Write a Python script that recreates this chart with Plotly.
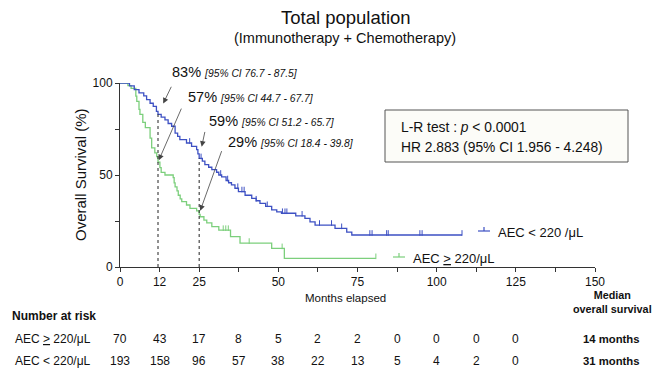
import plotly.graph_objects as go

# ---------------- data ----------------
blue_name = "AEC &lt; 220 /μL"
green_name = "AEC <u>&gt;</u> 220/μL"

blue_t = [0, 3.0, 4.5, 6.0, 7.5, 8.4, 9.5, 10.5, 11.5, 12.0, 13.0, 14.2, 15.2, 16.3, 17.4, 18.2,
          18.9, 21.0, 22.6, 24.2, 24.6, 25.0, 26.0, 26.8, 28.0, 29.0, 30.5, 31.2, 32.1, 33.5,
          34.3, 35.2, 36.3, 37.4, 39.5, 41.6, 43.0, 44.2, 46.0, 47.9, 49.5, 51.0, 55.5, 58.4,
          60.0, 61.6, 67.9, 71.6, 73.2]
blue_s = [100, 98.4, 96.4, 94.6, 93.0, 91.0, 89.0, 87.3, 84.6, 83.0, 81.5, 80.0, 78.0, 76.5, 72.8, 71.0,
          69.2, 67.4, 65.6, 63.8, 61.5, 59.0, 57.5, 55.6, 54.2, 52.9, 51.5, 50.0, 49.0, 47.0,
          45.8, 44.6, 42.8, 41.0, 39.0, 37.3, 36.0, 34.6, 33.0, 31.0, 30.0, 29.2, 27.8, 26.4,
          24.5, 22.8, 21.0, 19.0, 17.4]
blue_end = 108
blue_censor = [22.0, 25.6, 31.8, 34.0, 37.2, 38.5, 39.2, 43.0, 46.5, 51.3, 52.1, 52.7, 57.5,
               63.0, 66.8, 70.0, 78.9, 79.6, 84.2, 84.7, 94.7, 95.4, 108]

green_t = [0, 2.5, 3.5, 5.0, 5.3, 6.0, 6.3, 7.2, 8.0, 9.5, 10.0, 11.0, 11.6, 12.0, 12.6, 13.0,
           14.2, 16.8, 17.1, 17.4, 18.0, 18.4, 19.0, 19.5, 21.0, 22.1, 24.2, 25.0, 25.3, 26.5,
           27.4, 29.0, 31.2, 34.9, 37.9, 47.9, 51.9]
green_s = [100, 98.6, 97.1, 92.9, 90.0, 85.7, 82.9, 78.6, 75.7, 70.0, 64.7, 62.0, 60.0, 57.0, 54.0, 51.4,
           50.0, 48.6, 45.7, 43.6, 41.4, 39.0, 37.0, 35.5, 33.7, 31.9, 30.5, 28.6, 27.3, 25.5,
           24.0, 21.9, 20.0, 16.5, 13.0, 10.1, 4.7]
green_end = 80.8
green_censor = [32.6, 33.4, 34.2, 40.8, 51.2, 80.8]

marks = [  # (time, survival, big label, CI text)
    (12, 83, "83%", "[95% CI 76.7 - 87.5]"),
    (12, 57, "57%", "[95% CI 44.7 - 67.7]"),
    (25, 59, "59%", "[95% CI 51.2 - 65.7]"),
    (25, 29, "29%", "[95% CI 18.4 - 39.8]"),
]

risk_times = [0, 12.5, 25, 37.5, 50, 62.5, 75, 87.5, 100, 112.5, 125]
risk_green = [70, 43, 17, 8, 5, 2, 2, 0, 0, 0, 0]
risk_blue = [193, 158, 96, 57, 38, 22, 13, 5, 4, 2, 0]
median_green = "14 months"
median_blue = "31 months"

x_tickvals = [0, 12.5, 25, 37.5, 50, 62.5, 75, 87.5, 100, 112.5, 125, 137.5, 150]
x_ticktext = ["0", "12", "25", "", "50", "", "75", "", "100", "", "125", "", "150"]
y_tickvals = [0, 25, 50, 75, 100]
y_ticktext = ["0", "", "50", "", "100"]

BLUE = "#3d50c3"
GREEN = "#7ccf7c"
FONT = "Arial, Liberation Sans, sans-serif"

# ---------------- helpers ----------------
W, H = 652, 373
L, R, T, B = 120, 57, 83, 106
PW, PH = W - L - R, H - T - B


def pxx(px):
    return (px - L) / PW


def pxy(py):
    return (H - B - py) / PH


def step_val(ts, ss, t):
    v = ss[0]
    for ti, si in zip(ts, ss):
        if ti <= t:
            v = si
    return v


def text(fig, px, py, txt, size, xanchor="center", **kw):
    fig.add_annotation(x=pxx(px), y=pxy(py), xref="paper", yref="paper", xanchor=xanchor,
                       yanchor="middle", showarrow=False, text=txt,
                       font=dict(size=size, color="#111", family=FONT), **kw)


fig = go.Figure()

for ts, ss, end, cens, col in [(green_t, green_s, green_end, green_censor, GREEN),
                                (blue_t, blue_s, blue_end, blue_censor, BLUE)]:
    fig.add_trace(go.Scatter(x=ts + [end], y=ss + [ss[-1]], mode="lines",
                             line=dict(color=col, width=1.3, shape="hv"),
                             cliponaxis=False, showlegend=False, hoverinfo="skip"))
    cy = [step_val(ts, ss, c) + 1.1 for c in cens]
    fig.add_trace(go.Scatter(x=cens, y=cy, mode="markers",
                             marker=dict(symbol="line-ns", size=4, line=dict(color=col, width=1)),
                             cliponaxis=False, showlegend=False, hoverinfo="skip"))

# dashed reference lines
for t in sorted(set(m[0] for m in marks)):
    top = max(m[1] for m in marks if m[0] == t)
    fig.add_shape(type="line", x0=t, x1=t, y0=0, y1=top, xref="x", yref="y",
                  line=dict(color="#222", width=1, dash="dot"))

# percentage labels and arrows
label_px = [(170, 72), (186, 97), (207, 121), (226, 142)]
arrow_off = [(14, -29, 12), (24, -55, 2), (6, -28, 12), (23, -64, 3)]
for (t, s, big, ci), (lx, ly), (ax, ay, so) in zip(marks, label_px, arrow_off):
    text(fig, lx, ly, f"{big} <i><span style='font-size:10.3px'>{ci}</span></i>", 14.5,
         xanchor="left")
    fig.add_annotation(x=t, y=s, xref="x", yref="y", ax=ax, ay=ay, text="", showarrow=True,
                       arrowhead=2, arrowsize=1.4, arrowwidth=0.8, arrowcolor="#444",
                       standoff=so)

# stats box
fig.add_shape(type="rect", x0=pxx(385), x1=pxx(628), y0=pxy(110), y1=pxy(162),
              xref="paper", yref="paper", line=dict(color="#555", width=1),
              fillcolor="#fcfcf8", layer="above")
text(fig, 399, 127, "L-R test : <i>p</i> &lt; 0.0001", 13.8, xanchor="left")
text(fig, 399, 147, "HR 2.883 (95% CI 1.956 - 4.248)", 13.8, xanchor="left")

# legend (custom)
for (x0, x1, yy, name, col, tx) in [(478, 490, 231, blue_name, BLUE, 496),
                                      (393, 405, 257, green_name, GREEN, 411)]:
    fig.add_shape(type="line", x0=pxx(x0), x1=pxx(x1), y0=pxy(yy), y1=pxy(yy),
                  xref="paper", yref="paper", line=dict(color=col, width=1.2))
    fig.add_shape(type="line", x0=pxx((x0 + x1) / 2), x1=pxx((x0 + x1) / 2), y0=pxy(yy),
                  y1=pxy(yy - 4), xref="paper", yref="paper", line=dict(color=col, width=1.2))
    text(fig, tx, yy + 1, name, 13, xanchor="left")

# titles
text(fig, 346, 17, "Total population", 18.5)
text(fig, 345, 38, "(Immunotherapy + Chemotherapy)", 14.5)
text(fig, 80, 175, "Overall Survival (%)", 15, textangle=-90)
text(fig, 345, 298, "Months elapsed", 11.5)

# number at risk table
text(fig, 10, 316, "<b>Number at risk</b>", 12, xanchor="left")
for name, vals, py, med in [("AEC <u>&gt;</u> 220/μL", risk_green, 339, median_green),
                            ("AEC &lt; 220/μL", risk_blue, 361, median_blue)]:
    text(fig, 13, py, name, 12, xanchor="left")
    for t, v in zip(risk_times, vals):
        fig.add_annotation(x=t, y=pxy(py), xref="x", yref="paper", showarrow=False,
                           xanchor="center", yanchor="middle", text=str(v),
                           font=dict(size=12, color="#111", family=FONT))
    text(fig, 611, py, f"<b>{med}</b>", 11.3)
text(fig, 612, 302, "<b>Median<br>overall survival</b>", 10.8)

fig.update_layout(
    width=W, height=H, margin=dict(l=L, r=R, t=T, b=B, autoexpand=False),
    paper_bgcolor="white", plot_bgcolor="white", showlegend=False,
    font=dict(family=FONT, color="#111", size=12),
    xaxis=dict(range=[0, 150], tickvals=x_tickvals, ticktext=x_ticktext, showgrid=False,
               zeroline=False, showline=True, linecolor="#333", linewidth=1, ticks="outside",
               ticklen=4, tickcolor="#333", tickfont=dict(size=12)),
    yaxis=dict(range=[0, 100], tickvals=y_tickvals, ticktext=y_ticktext, showgrid=False,
               zeroline=False, showline=True, linecolor="#333", linewidth=1, ticks="outside",
               ticklen=4, tickcolor="#333", tickfont=dict(size=12)),
)

fig.write_html("out.html")
